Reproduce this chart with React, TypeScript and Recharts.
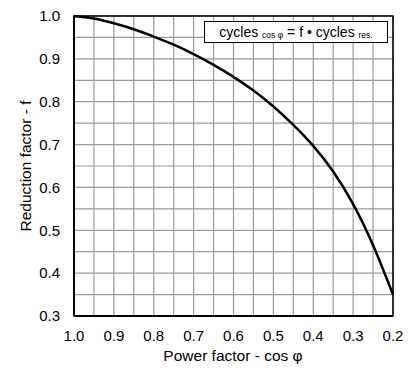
import { LineChart, Line, XAxis, YAxis, CartesianGrid, ReferenceArea } from 'recharts';

const powerFactor = [1.0, 0.95, 0.9, 0.85, 0.8, 0.75, 0.7, 0.65, 0.6, 0.55, 0.5, 0.45, 0.4, 0.35, 0.3, 0.25, 0.2];
const reduction = [1.0, 0.994, 0.983, 0.969, 0.952, 0.933, 0.911, 0.886, 0.858, 0.826, 0.789, 0.746, 0.697, 0.637, 0.561, 0.465, 0.35];

// grid every 0.05, labels every 0.1
const xTicks = [1.0, 0.95, 0.9, 0.85, 0.8, 0.75, 0.7, 0.65, 0.6, 0.55, 0.5, 0.45, 0.4, 0.35, 0.3, 0.25, 0.2];
const yTicks = [0.3, 0.35, 0.4, 0.45, 0.5, 0.55, 0.6, 0.65, 0.7, 0.75, 0.8, 0.85, 0.9, 0.95, 1.0];

const chartData = powerFactor.map((pf, i) => ({ pf, f: reduction[i] }));

const font = '"Liberation Sans", Arial, sans-serif';

const isMajor = (v: number) => Math.abs(v * 10 - Math.round(v * 10)) < 1e-6;

export default function App() {
  return (
    <div style={{ position: 'relative', width: 411, height: 364, fontFamily: font }}>
      <LineChart width={411} height={364} data={chartData} margin={{ top: 8, right: 26, bottom: 26, left: 26 }}>
        <CartesianGrid stroke="#9a9a9a" strokeWidth={1.2} />
        <XAxis
          dataKey="pf"
          type="number"
          domain={[0.2, 1.0]}
          reversed
          ticks={xTicks}
          interval={0}
          tickLine={false}
          axisLine={{ stroke: '#000', strokeWidth: 2 }}
          height={30}
          tickMargin={8}
          tick={{ fontSize: 15, fill: '#000', fontFamily: font }}
          tickFormatter={(v: number) => (isMajor(v) ? v.toFixed(1) : '')}
          label={{
            content: () => (
              <text x={225} y={353} textAnchor="middle" fontSize={15.5} fontFamily={font} fill="#000">
                Power factor - cos φ
              </text>
            ),
          }}
        />
        <YAxis
          type="number"
          domain={[0.3, 1.0]}
          ticks={yTicks}
          interval={0}
          tickLine={false}
          axisLine={{ stroke: '#000', strokeWidth: 2 }}
          width={40}
          tickMargin={8}
          tick={{ fontSize: 15, fill: '#000', fontFamily: font }}
          tickFormatter={(v: number) => (isMajor(v) ? v.toFixed(1) : '')}
          label={{
            content: () => (
              <text
                x={23}
                y={158}
                transform="rotate(-90 23 158)"
                textAnchor="middle"
                fontSize={15.5}
                fontFamily={font}
                fill="#000"
              >
                Reduction factor - f
              </text>
            ),
          }}
        />
        <ReferenceArea x1={1.0} x2={0.2} y1={0.3} y2={1.0} fill="none" stroke="#000" strokeWidth={1.5} />
        <Line
          type="natural"
          dataKey="f"
          stroke="#000"
          strokeWidth={2.5}
          dot={false}
          isAnimationActive={false}
        />
      </LineChart>
      <div
        style={{
          position: 'absolute',
          left: 196,
          top: 13,
          width: 182,
          height: 20,
          border: '1px solid #000',
          background: '#fff',
          fontSize: 14,
          color: '#000',
          display: 'flex',
          alignItems: 'center',
          justifyContent: 'center',
          whiteSpace: 'pre',
        }}
      >
        cycles <span style={{ fontSize: 8.5, position: 'relative', top: 3 }}>cos φ</span> = f • cycles{' '}
        <span style={{ fontSize: 8.5, position: 'relative', top: 3 }}>res.</span>
      </div>
    </div>
  );
}
